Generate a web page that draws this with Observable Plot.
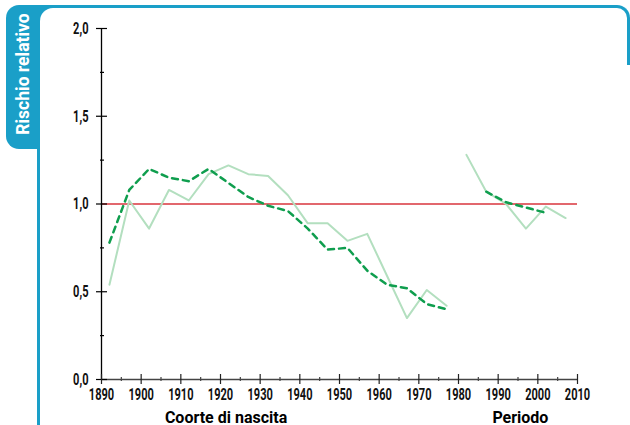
<!DOCTYPE html>
<html>
<head>
<meta charset="utf-8">
<script src="https://cdn.jsdelivr.net/npm/d3@7"></script>
<script src="https://cdn.jsdelivr.net/npm/@observablehq/plot@0.6"></script>
<style>
  body { margin: 0; background: #fff; }
  #wrap { position: relative; width: 630px; height: 425px; overflow: hidden; background: #fff; }
  .blue { position: absolute; background: #1a9fc8; }
  #tab { left: 6px; top: 5px; width: 34px; height: 144px; border-radius: 13px 0 0 13px; }
  #topline { position: absolute; left: 30px; top: 5px; width: 600px; height: 60px; box-sizing: border-box;
             border-top: 3px solid #1a9fc8; border-right: 3px solid #1a9fc8; border-top-right-radius: 13px; }
  #cornerfill { left: 38px; top: 5px; width: 16px; height: 16px; }
  #cornerwhite { position: absolute; left: 40px; top: 8px; width: 40px; height: 40px; background: #fff; border-top-left-radius: 13px; }
  #leftline { left: 37px; top: 140px; width: 3px; height: 290px; }
  #ylab { position: absolute; left: 23px; top: 74px; transform: translate(-50%, -50%) rotate(-90deg);
          color: #fff; font: bold 17.5px Roboto, "Liberation Sans", Arial, sans-serif; white-space: nowrap; }
  #chart { position: absolute; left: 0; top: 0; }
</style>
</head>
<body>
<div id="wrap">
  <div id="topline"></div>
  <div class="blue" id="tab"></div>
  <div class="blue" id="cornerfill"></div>
  <div id="cornerwhite"></div>
  <div class="blue" id="leftline"></div>
  <div id="ylab">Rischio relativo</div>
  <div id="chart"></div>
</div>
<script>
// ---- data ----
const cohortYears = [1892, 1897, 1902, 1907, 1912, 1917, 1922, 1927, 1932, 1937, 1942, 1947, 1952, 1957, 1962, 1967, 1972, 1977];
const cohortObserved = [0.54, 1.02, 0.86, 1.08, 1.02, 1.17, 1.22, 1.17, 1.16, 1.05, 0.89, 0.89, 0.79, 0.83, 0.59, 0.35, 0.51, 0.42];
const cohortFitted = [0.78, 1.08, 1.20, 1.15, 1.13, 1.20, 1.12, 1.04, 0.99, 0.96, 0.86, 0.74, 0.75, 0.62, 0.54, 0.52, 0.43, 0.40];
const periodYears = [1982, 1987, 1992, 1997, 2002, 2007];
const periodObserved = [1.28, 1.07, 1.00, 0.86, 0.985, 0.92];
const periodFitYears = [1987, 1992, 1997, 2002];
const periodFitted = [1.07, 1.01, 0.98, 0.95];
const referenceLevel = [1];
const xMajorTicks = [1890, 1900, 1910, 1920, 1930, 1940, 1950, 1960, 1970, 1980, 1990, 2000, 2010];
const xMinorTicks = [1895, 1905, 1915, 1925, 1935, 1945, 1955, 1965, 1975, 1985, 1995, 2005];
const yMajorTicks = [0, 0.5, 1, 1.5, 2];
const yMinorTicks = [0.25, 0.75, 1.25, 1.75];
const axisTitles = ["Coorte di nascita", "Periodo"];
const axisTitleX = [1921.4, 1995.6];

const W = 630, H = 425, mL = 101, mR = 53, mT = 28, mB = 46;
const FW = W - mL - mR, FH = H - mT - mB;

const toRows = (xs, ys) => xs.map((x, i) => ({x, y: ys[i]}));
const tickFont = 'Roboto, "Liberation Sans", Arial, sans-serif';

const chart = Plot.plot({
  width: W, height: H,
  marginLeft: mL, marginRight: mR, marginTop: mT, marginBottom: mB,
  style: {background: "transparent", fontFamily: tickFont, fontSize: "17px", fontWeight: "bold", color: "#111", overflow: "visible"},
  x: {domain: [1890, 2010], ticks: xMajorTicks, tickSize: 0, tickPadding: 8, tickFormat: d => String(d), label: null},
  y: {domain: [0, 2], ticks: yMajorTicks, tickSize: 0, tickPadding: 13, tickFormat: d => d.toFixed(1).replace(".", ","), label: null},
  marks: [
    Plot.ruleY(referenceLevel, {stroke: "#d8353c", strokeWidth: 1.4}),
    Plot.ruleY([0], {stroke: "#444", strokeWidth: 1.3}),
    Plot.ruleX([1890], {y1: 0, y2: 2, stroke: "#000", strokeWidth: 1.3}),
    Plot.tickY(yMajorTicks, {y: d => d, insetLeft: -5, insetRight: FW - 6, stroke: "#000", strokeWidth: 1.2}),
    Plot.tickY(yMinorTicks, {y: d => d, insetLeft: -1, insetRight: FW - 3, stroke: "#000", strokeWidth: 1.2}),
    Plot.tickX(xMajorTicks, {x: d => d, insetTop: FH - 5, insetBottom: -5, stroke: "#222", strokeWidth: 1.2}),
    Plot.tickX(xMinorTicks, {x: d => d, insetTop: FH - 2, insetBottom: -2, stroke: "#444", strokeWidth: 1.2}),
    Plot.line(toRows(cohortYears, cohortObserved), {x: "x", y: "y", stroke: "#b3dfbf", strokeWidth: 2}),
    Plot.line(toRows(periodYears, periodObserved), {x: "x", y: "y", stroke: "#b3dfbf", strokeWidth: 2}),
    Plot.line(toRows(cohortYears, cohortFitted), {x: "x", y: "y", stroke: "#0f9e4e", strokeWidth: 2.5, strokeDasharray: "6,5"}),
    Plot.line(toRows(periodFitYears, periodFitted), {x: "x", y: "y", stroke: "#0f9e4e", strokeWidth: 2.5, strokeDasharray: "6,5"}),
    Plot.text(axisTitles, {x: (d, i) => axisTitleX[i], text: d => d, frameAnchor: "bottom", dy: 43,
      fontSize: 16, fontWeight: "bold", fill: "#000", fontFamily: 'Roboto, "Liberation Sans", Arial, sans-serif'})
  ]
});
document.getElementById("chart").appendChild(chart);

// condense the tick labels horizontally, as in the reference's condensed typeface
d3.select(chart).selectAll('g[aria-label="x-axis tick label"] text, g[aria-label="y-axis tick label"] text')
  .each(function () {
    const len = this.getComputedTextLength();
    if (len > 0) {
      this.setAttribute("textLength", (len * 0.65).toFixed(2));
      this.setAttribute("lengthAdjust", "spacingAndGlyphs");
    }
  });
</script>
</body>
</html>
